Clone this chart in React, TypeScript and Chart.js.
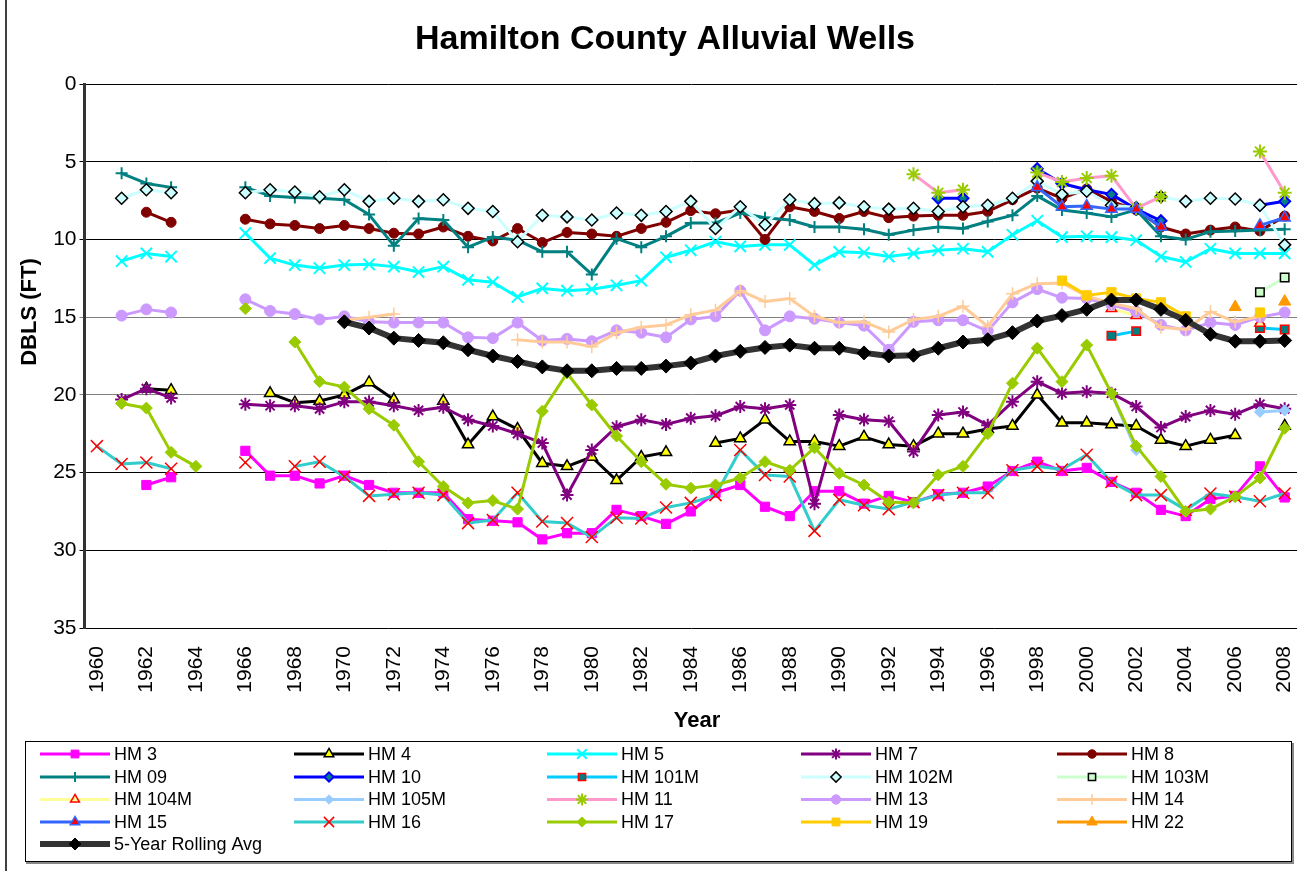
import React, { useEffect, useRef } from 'react';
import { Chart, registerables } from 'chart.js';
import { drawPoint } from 'chart.js/helpers';

Chart.register(...registerables);

const _ = null;
const E10 = [_, _, _, _, _, _, _, _, _, _];

const years = [
  '1960', '1961', '1962', '1963', '1964', '1965', '1966', '1967', '1968', '1969',
  '1970', '1971', '1972', '1973', '1974', '1975', '1976', '1977', '1978', '1979',
  '1980', '1981', '1982', '1983', '1984', '1985', '1986', '1987', '1988', '1989',
  '1990', '1991', '1992', '1993', '1994', '1995', '1996', '1997', '1998', '1999',
  '2000', '2001', '2002', '2003', '2004', '2005', '2006', '2007', '2008',
];

const hm3 = [
  _, _, 25.8, 25.3, _, _, 23.6, 25.2, 25.2, 25.7,
  25.2, 25.8, 26.3, 26.3, 26.3, 28.0, 28.1, 28.2, 29.3, 28.9,
  28.9, 27.4, 27.8, 28.3, 27.5, 26.3, 25.8, 27.2, 27.8, 26.2,
  26.2, 27.0, 26.5, 26.9, 26.4, 26.3, 25.9, 24.9, 24.3, 24.9,
  24.7, 25.6, 26.3, 27.4, 27.8, 26.7, 26.5, 24.6, 26.6,
];
const hm4 = [
  _, _, 19.6, 19.7, _, _, _, 19.9, 20.5, 20.4,
  20.0, 19.2, 20.3, _, 20.4, 23.2, 21.4, 22.2, 24.4, 24.6,
  24.0, 25.5, 24.0, 23.7, _, 23.1, 22.8, 21.6, 23.0, 23.0,
  23.3, 22.7, 23.2, 23.3, 22.5, 22.5, 22.2, 22.0, 20.0, 21.8,
  21.8, 21.9, 22.0, 22.9, 23.3, 22.9, 22.6, _, 22.0,
];
const hm5 = [
  _, 11.4, 10.9, 11.1, _, _, 9.6, 11.2, 11.65, 11.85,
  11.65, 11.6, 11.75, 12.1, 11.75, 12.6, 12.75, 13.7, 13.15, 13.3,
  13.2, 12.95, 12.65, 11.15, 10.7, 10.15, 10.45, 10.35, 10.35, 11.65,
  10.8, 10.85, 11.1, 10.9, 10.7, 10.6, 10.8, 9.7, 8.8, 9.85,
  9.8, 9.85, 10.05, 11.1, 11.45, 10.6, 10.9, 10.9, 10.9,
];
const hm7 = [
  _, 20.3, 19.6, 20.2, _, _, 20.6, 20.7, 20.7, 20.9,
  20.45, 20.45, 20.7, 21.0, 20.8, 21.6, 22.0, 22.5, 23.1, 26.45,
  23.55, 22.05, 21.6, 21.9, 21.5, 21.35, 20.75, 20.9, 20.65, 27.0,
  21.3, 21.6, 21.7, 23.65, 21.3, 21.1, 21.95, 20.45, 19.15, 19.9,
  19.8, 19.9, 20.75, 22.1, 21.4, 21.0, 21.25, 20.6, 20.9,
];
const hm8 = [
  _, _, 8.25, 8.9, _, _, 8.7, 9.0, 9.1, 9.3,
  9.1, 9.3, 9.6, 9.65, 9.2, 9.8, 10.1, 9.3, 10.2, 9.55,
  9.65, 9.8, 9.3, 8.9, 8.15, 8.35, 8.1, 10.0, 7.9, 8.2,
  8.65, 8.2, 8.6, 8.5, 8.45, 8.45, 8.2, 7.45, 6.7, 7.35,
  6.75, 7.55, 8.1, 9.2, 9.65, 9.4, 9.2, 9.45, 8.5,
];
const hm09 = [
  _, 5.75, 6.4, 6.65, _, _, 6.65, 7.2, 7.3, 7.35,
  7.45, 8.4, 10.4, 8.65, 8.75, 10.5, 9.85, 10.05, 10.8, 10.8,
  12.25, 9.95, 10.5, 9.8, 8.95, 8.95, 8.3, 8.6, 8.75, 9.2,
  9.2, 9.35, 9.7, 9.4, 9.2, 9.3, 8.85, 8.45, 7.2, 8.1,
  8.3, 8.55, 8.1, 9.8, 10.0, 9.5, 9.45, 9.4, 9.35,
];
const hm10 = [
  ...E10, ...E10, ...E10,
  _, _, _, _, 7.35, 7.35, _, _, 5.45, 6.4,
  6.8, 7.1, 8.05, 8.8, _, _, _, 7.8, 7.55,
];
const hm101m = [
  ...E10, ...E10, ...E10, ...E10,
  _, 16.2, 15.9, _, _, _, _, 15.7, 15.8,
];
const hm102m = [
  _, 7.35, 6.8, 7.0, _, _, 7.0, 6.8, 6.95, 7.25,
  6.8, 7.55, 7.35, 7.55, 7.45, 8.0, 8.2, 10.15, 8.45, 8.55,
  8.75, 8.3, 8.45, 8.2, 7.55, 9.3, 7.9, 9.05, 7.45, 7.7,
  7.65, 7.9, 8.05, 8.0, 8.2, 7.9, 7.8, 7.35, 6.25, 7.1,
  6.9, 7.8, 7.95, 7.25, 7.55, 7.35, 7.4, 7.8, 10.35,
];
const hm103m = [
  ...E10, ...E10, ...E10, ...E10,
  _, _, _, _, _, _, _, 13.4, 12.45,
];
const hm104m = [
  ...E10, ...E10, ...E10, ...E10,
  _, 14.45, 14.9, _, _, _, _, 15.4, _,
];
const hm105m = [
  ...E10, ...E10, ...E10, ...E10,
  _, 19.9, 23.55, _, _, _, _, 21.1, 21.0,
];
const hm11 = [
  ...E10, ...E10, ...E10,
  _, _, _, 5.8, 7.0, 6.8, _, _, 5.7, 6.3,
  6.05, 5.9, 8.0, 7.25, _, _, _, 4.35, 7.0,
];
const hm13 = [
  _, 14.9, 14.5, 14.7, _, _, 13.85, 14.6, 14.8, 15.15,
  14.95, 15.3, 15.35, 15.35, 15.35, 16.3, 16.35, 15.35, 16.5, 16.4,
  16.55, 15.85, 16.0, 16.3, 15.15, 14.95, 13.3, 15.85, 14.95, 15.1,
  15.35, 15.55, 17.1, 15.3, 15.2, 15.2, 15.9, 14.05, 13.2, 13.75,
  13.8, 14.2, 14.65, 15.5, 15.85, 15.35, 15.5, 15.0, 14.7,
];
const hm14 = [
  ...E10,
  15.2, 15.0, 14.8, _, _, _, _, 16.45, 16.6, 16.6,
  16.9, 16.0, 15.65, 15.5, 14.85, 14.55, 13.3, 14.0, 13.8, 14.95,
  15.35, 15.3, 15.95, 15.15, 14.95, 14.3, 15.6, 13.5, 12.85, 12.8,
  13.65, 14.1, 14.45, 15.65, 15.8, 14.65, 15.3, 14.95, _,
];
const hm15 = [
  ...E10, ...E10, ...E10,
  _, _, _, _, _, _, _, _, 6.65, 7.9,
  7.85, 8.05, 8.05, 9.2, _, _, _, 9.1, 8.6,
];
const hm16 = [
  23.3, 24.45, 24.35, 24.75, _, _, 24.35, _, 24.6, 24.3,
  25.25, 26.5, 26.4, 26.3, 26.45, 28.25, 28.05, 26.3, 28.15, 28.25,
  29.15, 27.9, 27.95, 27.25, 26.95, 26.45, 23.55, 25.15, 25.25, 28.75,
  26.75, 27.1, 27.35, 26.9, 26.45, 26.3, 26.3, 24.85, 24.6, 24.8,
  23.85, 25.6, 26.45, 26.45, 27.4, 26.35, 26.55, 26.85, 26.35,
];
const hm17 = [
  _, 20.55, 20.85, 23.7, 24.6, _, 14.45, _, 16.6, 19.15,
  19.5, 20.9, 21.95, 24.3, 25.9, 26.95, 26.8, 27.35, 21.05, 18.6,
  20.65, 22.65, 24.3, 25.75, 26.0, 25.8, 25.35, 24.3, 24.85, 23.4,
  25.05, 25.8, 26.9, 26.95, 25.15, 24.6, 22.5, 19.25, 17.0, 19.15,
  16.8, 19.9, 23.3, 25.25, 27.5, 27.35, 26.55, 25.35, 22.15,
];
const hm19 = [
  ...E10, ...E10, ...E10,
  _, _, _, _, _, _, _, _, _, 12.65,
  13.6, 13.4, 13.8, 14.05, 14.95, _, _, 14.7, _,
];
const hm22 = [
  ...E10, ...E10, ...E10, ...E10,
  _, _, _, _, _, _, 14.35, _, 14.0,
];
const rollingAvg = [
  ...E10,
  15.3, 15.7, 16.35, 16.5, 16.65, 17.1, 17.5, 17.85, 18.2, 18.45,
  18.45, 18.3, 18.3, 18.15, 17.95, 17.5, 17.2, 16.95, 16.8, 17.0,
  17.0, 17.3, 17.5, 17.45, 17.0, 16.6, 16.45, 16.0, 15.25, 14.9,
  14.5, 13.9, 13.9, 14.5, 15.2, 16.1, 16.55, 16.55, 16.5,
];

const yTickValues = [0, 5, 10, 15, 20, 25, 30, 35];

type Series = {
  label: string;
  data: (number | null)[];
  line: string;
  width: number;
  point: string;
  radius: number;
  fill: string;
  stroke: string;
  bw: number;
};

const series: Series[] = [
  { label: 'HM 3', data: hm3, line: '#FF00FF', width: 3, point: 'rect', radius: 6.5, fill: '#FF00FF', stroke: '#FF00FF', bw: 1 },
  { label: 'HM 4', data: hm4, line: '#000000', width: 3, point: 'triangle', radius: 6.5, fill: '#FFFF00', stroke: '#000000', bw: 1.5 },
  { label: 'HM 5', data: hm5, line: '#00FFFF', width: 3, point: 'crossRot', radius: 8, fill: '#00FFFF', stroke: '#00FFFF', bw: 2 },
  { label: 'HM 7', data: hm7, line: '#800080', width: 3, point: 'star', radius: 6.5, fill: '#800080', stroke: '#800080', bw: 2 },
  { label: 'HM 8', data: hm8, line: '#800000', width: 3, point: 'circle', radius: 5, fill: '#800000', stroke: '#800000', bw: 1 },
  { label: 'HM 09', data: hm09, line: '#008080', width: 3, point: 'cross', radius: 6, fill: '#008080', stroke: '#008080', bw: 2 },
  { label: 'HM 10', data: hm10, line: '#0000FF', width: 3, point: 'rectRot', radius: 5.5, fill: '#008080', stroke: '#0000FF', bw: 2 },
  { label: 'HM 101M', data: hm101m, line: '#00CCFF', width: 3, point: 'rect', radius: 6, fill: '#008080', stroke: '#FF0000', bw: 1.5 },
  { label: 'HM 102M', data: hm102m, line: '#CCFFFF', width: 3, point: 'rectRot', radius: 6, fill: '#CCFFFF', stroke: '#000000', bw: 1.5 },
  { label: 'HM 103M', data: hm103m, line: '#CCFFCC', width: 3, point: 'rect', radius: 6, fill: '#CCFFCC', stroke: '#000000', bw: 1.5 },
  { label: 'HM 104M', data: hm104m, line: '#FFFF99', width: 3, point: 'triangle', radius: 6, fill: '#FFFF99', stroke: '#FF0000', bw: 1.5 },
  { label: 'HM 105M', data: hm105m, line: '#99CCFF', width: 3, point: 'rectRot', radius: 5.5, fill: '#99CCFF', stroke: '#99CCFF', bw: 1 },
  { label: 'HM 11', data: hm11, line: '#FF99CC', width: 3, point: 'star', radius: 7, fill: '#99CC00', stroke: '#99CC00', bw: 2 },
  { label: 'HM 13', data: hm13, line: '#CC99FF', width: 3, point: 'circle', radius: 5.5, fill: '#CC99FF', stroke: '#CC99FF', bw: 1 },
  { label: 'HM 14', data: hm14, line: '#FFCC99', width: 3, point: 'cross', radius: 6.5, fill: '#FFCC99', stroke: '#FFCC99', bw: 1.5 },
  { label: 'HM 15', data: hm15, line: '#3366FF', width: 3, point: 'triangle', radius: 6.5, fill: '#FF0000', stroke: '#3366FF', bw: 1.5 },
  { label: 'HM 16', data: hm16, line: '#33CCCC', width: 3, point: 'crossRot', radius: 8.5, fill: '#FF0000', stroke: '#FF0000', bw: 1.5 },
  { label: 'HM 17', data: hm17, line: '#99CC00', width: 3, point: 'rectRot', radius: 6, fill: '#99CC00', stroke: '#99CC00', bw: 1 },
  { label: 'HM 19', data: hm19, line: '#FFCC00', width: 3, point: 'rect', radius: 6.5, fill: '#FFCC00', stroke: '#FFCC00', bw: 1 },
  { label: 'HM 22', data: hm22, line: '#FF9900', width: 3, point: 'triangle', radius: 7, fill: '#FF9900', stroke: '#FF9900', bw: 1 },
  { label: '5-Year Rolling Avg', data: rollingAvg, line: '#333333', width: 6, point: 'rectRot', radius: 7, fill: '#000000', stroke: '#000000', bw: 1 },
];

const FONT = '"Liberation Sans", Arial, Helvetica, sans-serif';

const legendTextX = [114, 368, 621, 875, 1131];
const legendRowY = [754, 777, 799.5, 822, 844];

const decorPlugin = {
  id: 'decor',
  afterDraw(chart: any) {
    const ctx = chart.ctx as CanvasRenderingContext2D;
    ctx.save();
    // outer chart border (left edge)
    ctx.strokeStyle = '#000';
    ctx.lineWidth = 1.5;
    ctx.beginPath();
    ctx.moveTo(6, 0);
    ctx.lineTo(6, 871);
    ctx.stroke();

    // title
    ctx.fillStyle = '#000';
    ctx.font = `bold 34px ${FONT}`;
    ctx.textAlign = 'center';
    ctx.textBaseline = 'middle';
    ctx.fillText('Hamilton County Alluvial Wells', 665, 40);

    // axis titles
    ctx.font = `bold 22px ${FONT}`;
    ctx.fillText('Year', 697, 721);
    ctx.save();
    ctx.translate(30, 312);
    ctx.rotate(-Math.PI / 2);
    ctx.fillText('DBLS (FT)', 0, 0);
    ctx.restore();

    // legend box
    ctx.strokeStyle = '#000';
    ctx.lineWidth = 1;
    ctx.strokeRect(25.5, 741.5, 1266, 120);
    ctx.strokeStyle = '#888';
    ctx.lineWidth = 2;
    ctx.beginPath();
    ctx.moveTo(26, 863);
    ctx.lineTo(1293, 863);
    ctx.lineTo(1293, 743);
    ctx.stroke();

    ctx.font = `18px ${FONT}`;
    ctx.textAlign = 'left';
    ctx.textBaseline = 'middle';
    series.forEach((s, i) => {
      const col = i % 5;
      const row = Math.floor(i / 5);
      const tx = legendTextX[col];
      const ty = legendRowY[row];
      const x0 = tx - 74;
      const x1 = tx - 4;
      ctx.strokeStyle = s.line;
      ctx.lineWidth = s.width;
      ctx.lineCap = 'butt';
      ctx.beginPath();
      ctx.moveTo(x0, ty);
      ctx.lineTo(x1, ty);
      ctx.stroke();
      ctx.fillStyle = s.fill;
      ctx.strokeStyle = s.stroke;
      ctx.lineWidth = s.bw;
      drawPoint(ctx, { pointStyle: s.point as any, radius: s.radius * 0.85, rotation: 0, borderWidth: s.bw }, (x0 + x1) / 2, ty);
      ctx.fillStyle = '#000';
      ctx.fillText(s.label, tx, ty + 1);
    });
    ctx.restore();
  },
};

export default function App() {
  const ref = useRef<HTMLCanvasElement | null>(null);
  useEffect(() => {
    if (!ref.current) return;
    const n = series.length;
    const chart = new Chart(ref.current, {
      type: 'line',
      data: {
        labels: years,
        datasets: series.map((s, i) => ({
          label: s.label,
          data: s.data,
          borderColor: s.line,
          backgroundColor: s.fill,
          borderWidth: s.width,
          borderJoinStyle: 'round',
          borderCapStyle: 'round',
          pointStyle: s.point as any,
          pointRadius: s.radius,
          pointHoverRadius: s.radius,
          pointBackgroundColor: s.fill,
          pointBorderColor: s.stroke,
          pointBorderWidth: s.bw,
          tension: 0,
          spanGaps: false,
          fill: false,
          order: n - i,
        })),
      },
      options: {
        responsive: false,
        animation: false,
        events: [],
        layout: { padding: { left: 0, top: 84, right: 12.5, bottom: 0 } },
        plugins: {
          legend: { display: false },
          title: { display: false },
          tooltip: { enabled: false },
        },
        scales: {
          x: {
            type: 'category',
            offset: true,
            grid: { display: false },
            border: { display: false },
            ticks: {
              autoSkip: false,
              maxRotation: 90,
              minRotation: 90,
              padding: 10,
              color: '#000',
              font: { family: FONT, size: 21 },
              callback: (_v: any, i: number) => (i % 2 === 0 ? years[i] : ''),
            },
            afterFit: (s: any) => {
              s.height = 243;
            },
          },
          y: {
            type: 'linear',
            reverse: true,
            min: 0,
            max: 35,
            afterBuildTicks: (s: any) => {
              s.ticks = yTickValues.map((v) => ({ value: v }));
            },
            ticks: {
              color: '#000',
              padding: 3,
              font: { family: FONT, size: 21 },
            },
            grid: {
              color: (c: any) => (c.tick && (c.tick.value === 15 || c.tick.value === 20) ? '#808080' : '#000000'),
              lineWidth: 1,
              tickLength: 5,
              drawTicks: true,
            },
            border: { display: true, color: '#333333', width: 3 },
            afterFit: (s: any) => {
              s.width = 84.5;
            },
          },
        },
      },
      plugins: [decorPlugin],
    } as any);
    return () => chart.destroy();
  }, []);

  return (
    <div
      style={{
        position: 'fixed',
        left: 0,
        top: 0,
        width: 1304,
        height: 871,
        overflow: 'hidden',
        background: '#fff',
      }}
    >
      <canvas ref={ref} width={1320} height={871} style={{ display: 'block' }} />
    </div>
  );
}
